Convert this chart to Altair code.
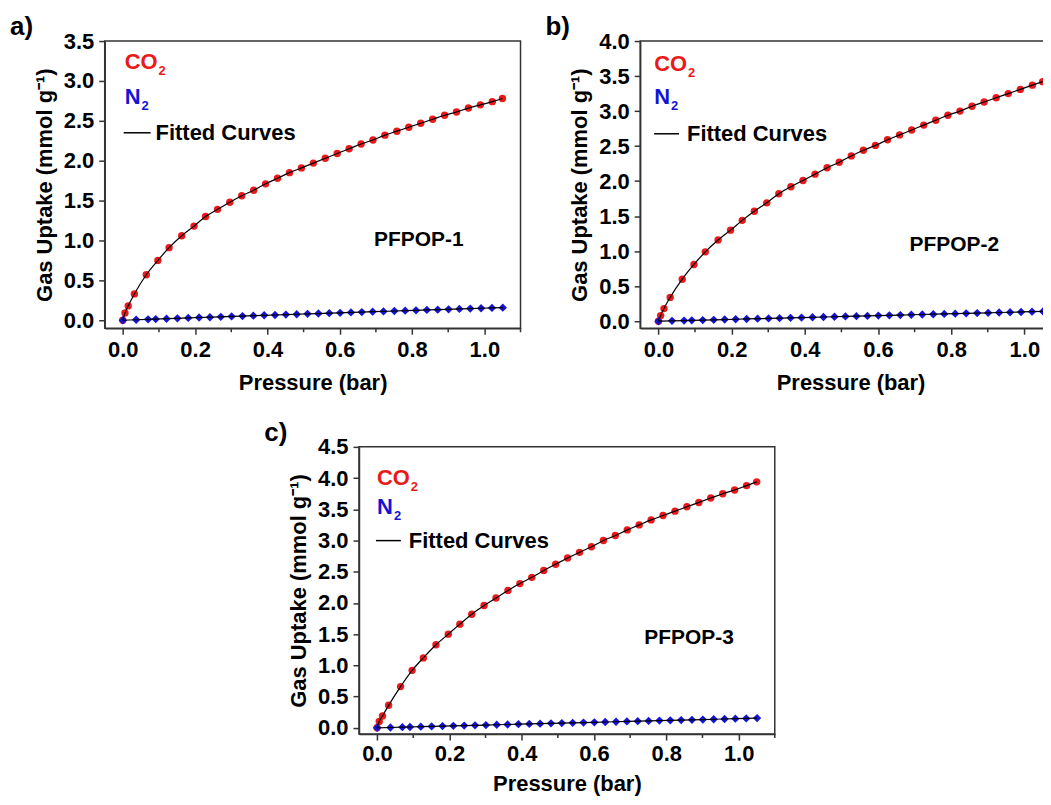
import altair as alt
import pandas as pd

# ---------------- data ----------------
CO2_P = [0.0, 0.006, 0.015, 0.032, 0.065, 0.097, 0.128, 0.163, 0.197, 0.229, 0.262, 0.296,
         0.329, 0.362, 0.395, 0.428, 0.461, 0.494, 0.527, 0.56, 0.593, 0.626, 0.659, 0.692,
         0.725, 0.758, 0.791, 0.824, 0.857, 0.89, 0.923, 0.956, 0.989, 1.022, 1.05]
CO2_A = [0.0, 0.09, 0.18, 0.33, 0.57, 0.75, 0.91, 1.06, 1.18, 1.30, 1.39, 1.48,
         1.56, 1.63, 1.71, 1.78, 1.85, 1.91, 1.97, 2.03, 2.09, 2.15, 2.21, 2.26,
         2.32, 2.37, 2.42, 2.47, 2.52, 2.57, 2.61, 2.66, 2.70, 2.74, 2.78]
CO2_B = [0.0, 0.08, 0.18, 0.34, 0.60, 0.81, 0.99, 1.16, 1.30, 1.44, 1.57, 1.69,
         1.82, 1.92, 2.01, 2.10, 2.19, 2.27, 2.36, 2.44, 2.51, 2.59, 2.66, 2.73,
         2.80, 2.87, 2.94, 3.00, 3.07, 3.13, 3.19, 3.25, 3.31, 3.37, 3.42]
CO2_C = [0.0, 0.10, 0.19, 0.36, 0.66, 0.92, 1.12, 1.33, 1.50, 1.66, 1.82, 1.96,
         2.08, 2.20, 2.31, 2.41, 2.52, 2.62, 2.72, 2.81, 2.90, 3.00, 3.08, 3.17,
         3.25, 3.33, 3.40, 3.47, 3.54, 3.61, 3.68, 3.75, 3.81, 3.88, 3.94]

N2_P = [0.0, 0.037, 0.07, 0.091, 0.121, 0.151, 0.181, 0.211, 0.241, 0.271, 0.301, 0.331,
        0.361, 0.391, 0.421, 0.451, 0.481, 0.511, 0.541, 0.571, 0.601, 0.631, 0.661, 0.691,
        0.721, 0.751, 0.781, 0.811, 0.841, 0.871, 0.901, 0.931, 0.961, 0.991, 1.021, 1.051]
N2_A = [0.0, 0.006, 0.011, 0.014, 0.019, 0.024, 0.029, 0.034, 0.038, 0.043, 0.048, 0.052,
        0.057, 0.062, 0.066, 0.071, 0.075, 0.080, 0.084, 0.089, 0.093, 0.098, 0.102, 0.107,
        0.111, 0.116, 0.120, 0.124, 0.129, 0.133, 0.137, 0.142, 0.146, 0.150, 0.154, 0.158]
N2_B = [0.0, 0.005, 0.009, 0.012, 0.016, 0.020, 0.024, 0.028, 0.032, 0.036, 0.040, 0.044,
        0.048, 0.052, 0.056, 0.060, 0.064, 0.068, 0.072, 0.076, 0.080, 0.084, 0.088, 0.092,
        0.096, 0.100, 0.104, 0.108, 0.112, 0.116, 0.120, 0.124, 0.128, 0.132, 0.136, 0.140]
N2_C = [0.0, 0.005, 0.010, 0.013, 0.018, 0.022, 0.027, 0.031, 0.036, 0.040, 0.044, 0.049,
        0.053, 0.058, 0.062, 0.066, 0.071, 0.075, 0.080, 0.084, 0.088, 0.093, 0.097, 0.102,
        0.106, 0.110, 0.115, 0.119, 0.124, 0.128, 0.132, 0.137, 0.141, 0.146, 0.150, 0.155]

PANEL_LABELS = ["a)", "b)", "c)"]
SAMPLE_NAMES = ["PFPOP-1", "PFPOP-2", "PFPOP-3"]
Y_MAX = [3.5, 4.0, 4.5]
Y_TICKS = [
    [0.0, 0.5, 1.0, 1.5, 2.0, 2.5, 3.0, 3.5],
    [0.0, 0.5, 1.0, 1.5, 2.0, 2.5, 3.0, 3.5, 4.0],
    [0.0, 0.5, 1.0, 1.5, 2.0, 2.5, 3.0, 3.5, 4.0, 4.5],
]
X_TICKS = [0.0, 0.2, 0.4, 0.6, 0.8, 1.0]
X_MINOR = [0.1, 0.3, 0.5, 0.7, 0.9, 1.1]
X_TITLE = "Pressure (bar)"
Y_TITLE = "Gas Uptake (mmol g⁻¹)"
LEGEND_CO2 = "CO"
LEGEND_N2 = "N"
LEGEND_SUB = "2"
LEGEND_FIT = "Fitted Curves"

# ---------------- style / layout ----------------
FONT = "Liberation Sans"
RED = "#ea1a1a"
BLUE = "#1414d4"
AXIS_COLOR = "#333333"
H = 288
X_MIN = -0.05

LAYOUT = [
    dict(width=417, xmax=1.1, lx=20, co=21, n=56, fit=92, l0=19, l1=46, ft=51, sx=315, sy=200,
         lpad=5, tpad=12),
    dict(width=422, xmax=1.1, lx=14, co=23, n=56, fit=93, l0=14, l1=39, ft=47, sx=315, sy=205,
         lpad=5, tpad=12),
    dict(width=417, xmax=1.1, lx=18, co=31, n=60, fit=94, l0=17, l1=42, ft=50, sx=331, sy=192,
         lpad=4, tpad=9),
]


def text_layer(txt, x, y, size, color, align="left"):
    return alt.Chart(pd.DataFrame({"t": [txt]})).mark_text(
        font=FONT, fontSize=size, fontWeight="bold", color=color, align=align, baseline="middle"
    ).encode(text="t:N", x=alt.value(x), y=alt.value(y))


def panel(i, co2, n2):
    lay = LAYOUT[i]
    xs = alt.Scale(domain=[X_MIN, lay["xmax"]], nice=False, zero=False)
    ys = alt.Scale(domain=[-0.1, Y_MAX[i]], nice=False, zero=False)
    xaxis = alt.Axis(values=X_TICKS, format=".1f", title=X_TITLE, grid=False,
                     tickSize=6, labelPadding=lay["lpad"], titlePadding=lay["tpad"])
    yaxis = alt.Axis(values=Y_TICKS[i], format=".1f", title=Y_TITLE, grid=False,
                     tickSize=6, labelPadding=5, titlePadding=7)
    X = alt.X("p:Q", scale=xs, axis=xaxis)
    Y = alt.Y("q:Q", scale=ys, axis=yaxis)

    df_c = pd.DataFrame({"p": CO2_P, "q": co2})
    df_n = pd.DataFrame({"p": N2_P, "q": n2})
    minor = pd.DataFrame({"p": [v for v in X_MINOR if v <= lay["xmax"]]})

    minor_ticks = alt.Chart(minor).mark_rule(color=AXIS_COLOR, strokeWidth=1.5).encode(
        x=X, y=alt.value(H), y2=alt.value(H + 4))
    co2_pts = alt.Chart(df_c).mark_point(shape="circle", filled=True, size=55, color=RED,
                                         opacity=1).encode(x=X, y=Y)
    n2_pts = alt.Chart(df_n).mark_point(shape="diamond", filled=True, size=70, color=BLUE,
                                        opacity=1).encode(x=X, y=Y)
    co2_line = alt.Chart(df_c).mark_line(color="black", strokeWidth=1.2,
                                         interpolate="monotone").encode(x=X, y=Y)
    n2_line = alt.Chart(df_n).mark_line(color="black", strokeWidth=1.2).encode(x=X, y=Y)

    lx = lay["lx"]
    fit_rule = alt.Chart(pd.DataFrame({"t": [0]})).mark_rule(color="black", strokeWidth=1.5).encode(
        x=alt.value(lay["l0"]), x2=alt.value(lay["l1"]), y=alt.value(lay["fit"]))
    layers = [
        minor_ticks, co2_pts, n2_pts, co2_line, n2_line,
        text_layer(LEGEND_CO2, lx, lay["co"], 22, RED),
        text_layer(LEGEND_SUB, lx + 34, lay["co"] + 9, 13, RED),
        text_layer(LEGEND_N2, lx, lay["n"], 22, BLUE),
        text_layer(LEGEND_SUB, lx + 17, lay["n"] + 9, 13, BLUE),
        fit_rule,
        text_layer(LEGEND_FIT, lay["ft"], lay["fit"], 22, "black"),
        text_layer(SAMPLE_NAMES[i], lay["sx"], lay["sy"], 21, "black", align="center"),
    ]
    return alt.layer(*layers).properties(
        width=lay["width"], height=H,
        title=alt.TitleParams(PANEL_LABELS[i], anchor="start", frame="group", dx=-95,
                              offset=-10, fontSize=26, fontWeight="bold", font=FONT, color="black"),
    )


pa = panel(0, CO2_A, N2_A)
pb = panel(1, CO2_B, N2_B)
pc = panel(2, CO2_C, N2_C)

spacer = alt.Chart(pd.DataFrame({"p": [0]})).mark_point(opacity=0).encode(
    x=alt.X("p:Q", axis=None), y=alt.Y("p:Q", axis=None)
).properties(width=245, height=H, view=alt.ViewBackground(strokeOpacity=0))

top = alt.hconcat(pa, pb, spacing=120, bounds="flush")
bottom = alt.hconcat(spacer, pc, spacing=10, bounds="flush")

# with flush bounds the nested top row counts as zero height, so the spacing
# between plot tops is the plot height plus the gap
# (right padding is negative: panel b runs past the page edge, as in the reference)
chart = alt.vconcat(top, bottom, spacing=H + 119, bounds="flush").properties(
    padding={"left": 1, "top": 4, "right": -20, "bottom": 0}
).configure(font=FONT).configure_view(
    stroke=AXIS_COLOR, strokeWidth=1.5
).configure_axis(
    labelFont=FONT, titleFont=FONT, labelFontSize=22, titleFontSize=22,
    labelFontWeight="bold", titleFontWeight="bold", labelColor="black", titleColor="black",
    domainColor=AXIS_COLOR, tickColor=AXIS_COLOR, domainWidth=1.5, tickWidth=1.5,
)

chart.save("out.html", embed_options={"renderer": "svg", "actions": False})
